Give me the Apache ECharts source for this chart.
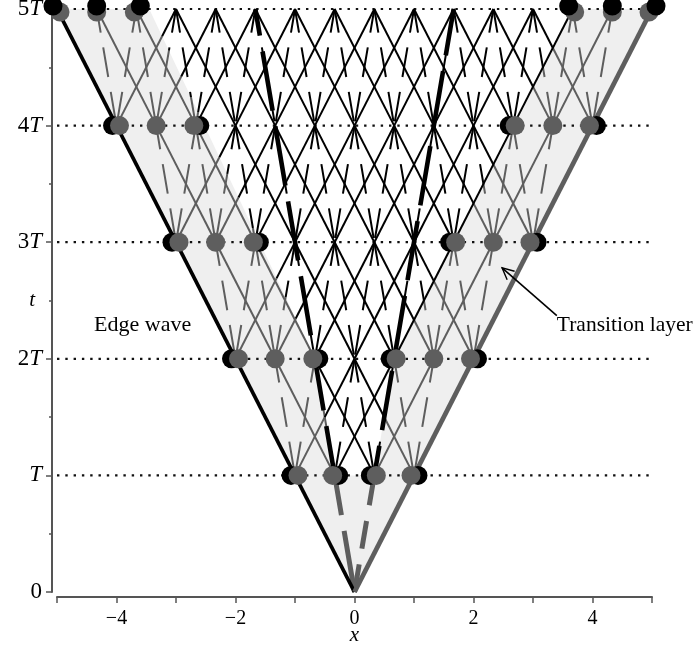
<!DOCTYPE html>
<html><head><meta charset="utf-8">
<script src="https://cdn.jsdelivr.net/npm/echarts@6/dist/echarts.min.js"></script>
<style>html,body{margin:0;padding:0;background:#fff}#c{width:696px;height:655px}</style>
</head><body><div id="c"></div>
<script>
// ---------------- data ----------------
const rowTimes = [1, 2, 3, 4, 5];                 // t = T, 2T, ... 5T
const row1 = [-1, -0.3333, 0.3333, 1];
const row2 = [-2, -1.3333, -0.6667, 0, 0.6667, 1.3333, 2];
const row3 = [-3, -2.3333, -1.6667, -1, -0.3333, 0.3333, 1, 1.6667, 2.3333, 3];
const row4 = [-4, -3.3333, -2.6667, -2, -1.3333, -0.6667, 0, 0.6667, 1.3333, 2, 2.6667, 3.3333, 4];
const row5 = [-5, -4.3333, -3.6667, -3, -2.3333, -1.6667, -1, -0.3333, 0.3333, 1, 1.6667, 2.3333, 3, 3.6667, 4.3333, 5];
const latticeRows = [row1, row2, row3, row4, row5];
const solidStep = 1, dashedStep = 0.3333;          // characteristic steps per T

const coneEdgeLeft  = [[0, 0], [-5, 5]];
const coneEdgeRight = [[0, 0], [5, 5]];
const slowLeftLow   = [[0, 0], [-0.3333, 1]];
const slowLeftHigh  = [[-0.3333, 1], [-1.6667, 5]];
const slowRightLow  = [[0, 0], [0.3333, 1]];
const slowRightHigh = [[0.3333, 1], [1.6667, 5]];

// inner boundary of the shaded transition layer
const shadeInnerLeft  = [[-0.3333, 1], [-0.6667, 2], [-3.45, 5]];
const shadeInnerRight = [[0.3333, 1], [0.6667, 2], [3.6667, 5]];

// transition-layer dots
const edgeDotsL  = [[-1, 1], [-2, 2], [-3, 3], [-4, 4], [-5, 5]];
const midDotsL   = [[-1.3333, 2], [-2.3333, 3], [-3.3333, 4], [-4.3333, 5]];
const innerDotsL = [[-0.3333, 1], [-0.6667, 2], [-1.6667, 3], [-2.6667, 4], [-3.6667, 5]];
const edgeDotsR  = [[1, 1], [2, 2], [3, 3], [4, 4], [5, 5]];
const midDotsR   = [[1.3333, 2], [2.3333, 3], [3.3333, 4], [4.3333, 5]];
const innerDotsR = [[0.3333, 1], [0.6667, 2], [1.6667, 3], [2.6667, 4], [3.6667, 5]];

const yTickLabels = ['0', 'T', '2T', '3T', '4T', '5T'];
const xTickValues = [-4, -2, 0, 2, 4];
const xTickLabels = ['\u22124', '\u22122', '0', '2', '4'];

const labelEdge = {text: 'Edge wave', at: [-3.56, 2.29]};
const labelLayer = {text: 'Transition layer', at: [3.40, 2.29]};
const arrowTail = [3.40, 2.37];
const arrowTip  = [2.48, 2.78];

// ---------------- styles ----------------
const GRAY = '#5e5e5e', BLACK = '#000', SHADE = '#efefef';
const SERIF = '"Liberation Serif", "DejaVu Serif", serif';
const DOT = 19;
const dotOffsetGray  = {edgeL: [3, 0], midL: [0, 0], innerL: [-2, 0], edgeR: [-3, 0], midR: [0, 0], innerR: [2, 0]};
const dotOffsetBlack = {edgeL: [-4, 0], midL: [0, 0], innerL: [4, 0], edgeR: [4, 0], midR: [0, 0], innerR: [-4, 0]};

// ---------------- helpers ----------------
function boundAt(bd, t) {
  for (let i = 0; i < bd.length - 1; i++) {
    const [xa, ta] = bd[i], [xb, tb] = bd[i + 1];
    if (t >= ta - 1e-9 && t <= tb + 1e-9) return xa + (xb - xa) * (t - ta) / (tb - ta);
  }
  return null;
}
const EPS_L = 1e-6, EPS_R = 0.01;
function isBlack(x, t) {
  if (t < 1 - 1e-9) return false;
  const L = boundAt(shadeInnerLeft, t), R = boundAt(shadeInnerRight, t);
  return x > L + EPS_L && x < R + EPS_R;
}
const graySegs = [], blackSegs = [];
function addSegment(xa, ta, xb, tb, dashed) {
  const ss = [0, 1];
  [[shadeInnerLeft, EPS_L], [shadeInnerRight, EPS_R]].forEach(([bd, eps]) => {
    const La = boundAt(bd, ta), Lb = boundAt(bd, tb);
    if (La === null || Lb === null) return;
    const f0 = xa - (La + eps), f1 = xb - (Lb + eps);
    if ((f0 < 0 && f1 > 0) || (f0 > 0 && f1 < 0)) ss.push(f0 / (f0 - f1));
  });
  ss.sort((a, b) => a - b);
  const px = s => xa + (xb - xa) * s, pt = s => ta + (tb - ta) * s;
  const pieces = [];
  for (let i = 0; i < ss.length - 1; i++) {
    const s0 = ss[i], s1 = ss[i + 1];
    if (s1 - s0 < 1e-6) continue;
    const c = isBlack(px((s0 + s1) / 2), pt((s0 + s1) / 2)) ? 1 : 0;
    const last = pieces[pieces.length - 1];
    if (last && last.c === c) last.s1 = s1; else pieces.push({s0, s1, c});
  }
  pieces.forEach(p => {
    const item = [px(p.s1), pt(p.s1), px(p.s0), pt(p.s0), p.c, dashed, xb, tb];
    (p.c ? blackSegs : graySegs).push(item);
  });
}
for (let r = 0; r < latticeRows.length - 1; r++) {
  const lo = latticeRows[r], hi = latticeRows[r + 1];
  lo.forEach(xa => hi.forEach(xb => {
    const d = Math.abs(xb - xa);
    if (Math.abs(d - solidStep) < 0.02) addSegment(xa, rowTimes[r], xb, rowTimes[r + 1], 0);
    else if (Math.abs(d - dashedStep) < 0.02) addSegment(xa, rowTimes[r], xb, rowTimes[r + 1], 1);
  }));
}

function segRender(params, api) {
  const p1 = api.coord([api.value(0), api.value(1)]);
  const p2 = api.coord([api.value(2), api.value(3)]);
  const pb = api.coord([api.value(6), api.value(7)]);
  const dashed = api.value(5) === 1;
  const style = {stroke: api.value(4) === 1 ? BLACK : GRAY, lineWidth: 2, fill: null};
  if (dashed) { style.lineDash = [30, 15]; style.lineDashOffset = 6 + Math.hypot(p1[0] - pb[0], p1[1] - pb[1]); }
  return {type: 'line', shape: {x1: p1[0], y1: p1[1], x2: p2[0], y2: p2[1]}, style};
}

function dotData(list, role, offsets, dyRow5, filter) {
  return list.filter(filter).map(p => ({
    value: p,
    symbolOffset: [offsets[role][0], offsets[role][1] + (p[1] === 5 ? dyRow5 : 0)]
  }));
}
const roles = [['edgeL', edgeDotsL], ['midL', midDotsL], ['innerL', innerDotsL], ['edgeR', edgeDotsR], ['midR', midDotsR], ['innerR', innerDotsR]];
const low = p => p[1] < 5, top5 = p => p[1] === 5;
let grayLow = [], blackLow = [], grayTop = [], blackTop = [];
roles.forEach(([role, list]) => {
  grayLow = grayLow.concat(dotData(list, role, dotOffsetGray, 0, low));
  if (role.indexOf('mid') !== 0) blackLow = blackLow.concat(dotData(list, role, dotOffsetBlack, 0, low));
  grayTop = grayTop.concat(dotData(list, role, dotOffsetGray, 3, top5));
  blackTop = blackTop.concat(dotData(list, role, dotOffsetBlack, -3, top5));
});

const shadePolygon = [coneEdgeLeft[0], coneEdgeLeft[1]]
  .concat(shadeInnerLeft.slice().reverse())
  .concat(shadeInnerRight)
  .concat([coneEdgeRight[1]]);

function lineSeries(data, color, width, dash, z, offset) {
  return {
    type: 'line', data, symbol: 'none', silent: true, z, clip: false,
    lineStyle: {color, width, type: dash || 'solid', dashOffset: offset || 0, cap: 'butt'}
  };
}

const chart = echarts.init(document.getElementById('c'), null, {renderer: 'canvas'});
const option = {
  animation: false,
  backgroundColor: '#fff',
  grid: {left: 57, right: 44, top: 9, bottom: 63, containLabel: false, outerBoundsMode: 'none'},
  xAxis: {
    type: 'value', min: -5, max: 5, interval: 1, offset: 5,
    name: 'x', nameLocation: 'middle', nameGap: 28, nameMoveOverlap: false,
    nameTextStyle: {fontFamily: SERIF, fontStyle: 'italic', fontSize: 21, color: '#000'},
    axisLine: {show: true, onZero: false, lineStyle: {color: '#555', width: 2}},
    axisTick: {show: true, length: 6, lineStyle: {color: '#555', width: 1.5}},
    splitLine: {show: false},
    axisLabel: {
      margin: 12, fontFamily: SERIF, fontSize: 20, color: '#000',
      formatter: v => { const i = xTickValues.indexOf(v); return i >= 0 ? xTickLabels[i] : ''; }
    }
  },
  yAxis: {
    type: 'value', min: 0, max: 5, interval: 1, offset: 5,
    name: 't', nameLocation: 'middle', nameGap: 17, nameRotate: 0, nameMoveOverlap: false,
    nameTextStyle: {fontFamily: SERIF, fontStyle: 'italic', fontSize: 21, color: '#000', align: 'right'},
    axisLine: {show: true, onZero: false, lineStyle: {color: '#555', width: 2}},
    axisTick: {show: true, length: 6, lineStyle: {color: '#555', width: 1.5}},
    minorTick: {show: true, splitNumber: 2, length: 3, lineStyle: {color: '#555', width: 1.5}},
    splitLine: {show: false},
    axisLabel: {
      margin: 10,
      formatter: v => {
        const s = yTickLabels[Math.round(v)] || '';
        const num = s.replace('T', '');
        return (num ? '{n|' + num + '}' : '') + (s.indexOf('T') >= 0 ? '{i|T}' : '');
      },
      rich: {
        n: {fontFamily: SERIF, fontSize: 23, color: '#000'},
        i: {fontFamily: SERIF, fontSize: 23, fontStyle: 'italic', color: '#000'}
      }
    }
  },
  series: [
    { // shaded transition layer
      type: 'custom', silent: true, z: 1, data: [[0, 0]],
      renderItem: (params, api) => ({
        type: 'polygon',
        shape: {points: shadePolygon.map(p => api.coord(p))},
        style: {fill: SHADE, stroke: null}
      })
    },
    { // dotted horizontal lines at nT
      type: 'custom', silent: true, z: 2, data: rowTimes.map(t => [0, t]),
      renderItem: (params, api) => {
        const t = api.value(1);
        const a = api.coord([-5, t]), b = api.coord([5, t]);
        return {type: 'line', shape: {x1: a[0], y1: a[1], x2: b[0], y2: b[1]},
          style: {stroke: '#111', lineWidth: 2.2, lineDash: [2.4, 5.9], lineCap: 'butt'}};
      }
    },
    {type: 'custom', silent: true, z: 3, data: graySegs, encode: {x: [0, 2], y: [1, 3]}, renderItem: segRender},
    {type: 'custom', silent: true, z: 4, data: blackSegs, encode: {x: [0, 2], y: [1, 3]}, renderItem: segRender},
    lineSeries(slowLeftLow, GRAY, 5, [62, 16], 5, 0),
    lineSeries(slowRightLow, GRAY, 5, [28, 16], 5, 0),
    lineSeries(slowLeftHigh, BLACK, 4.6, [60, 16], 5, 10),
    lineSeries(slowRightHigh, BLACK, 4.6, [60, 16], 5, 30),
    lineSeries(coneEdgeLeft, BLACK, 3.8, null, 6),
    lineSeries(coneEdgeRight, GRAY, 4.8, null, 6),
    {type: 'scatter', silent: true, z: 7, symbol: 'circle', symbolSize: DOT, data: blackLow, itemStyle: {color: BLACK, opacity: 1}},
    {type: 'scatter', silent: true, z: 8, symbol: 'circle', symbolSize: DOT, data: grayLow, itemStyle: {color: GRAY, opacity: 1}},
    {type: 'scatter', silent: true, z: 9, symbol: 'circle', symbolSize: DOT, data: grayTop, itemStyle: {color: GRAY, opacity: 1}},
    {type: 'scatter', silent: true, z: 10, symbol: 'circle', symbolSize: DOT, data: blackTop, itemStyle: {color: BLACK, opacity: 1}},
    { // annotations
      type: 'custom', silent: true, z: 11, data: [[0, 0]],
      renderItem: (params, api) => {
        const tail = api.coord(arrowTail), tip = api.coord(arrowTip);
        const ang = Math.atan2(tail[1] - tip[1], tail[0] - tip[0]);
        const L = 13, spread = 0.45;
        const a1 = [tip[0] + L * Math.cos(ang + spread), tip[1] + L * Math.sin(ang + spread)];
        const a2 = [tip[0] + L * Math.cos(ang - spread), tip[1] + L * Math.sin(ang - spread)];
        const pe = api.coord(labelEdge.at), pl = api.coord(labelLayer.at);
        return {
          type: 'group', children: [
            {type: 'line', shape: {x1: tail[0], y1: tail[1], x2: tip[0], y2: tip[1]}, style: {stroke: '#000', lineWidth: 1.6}},
            {type: 'polyline', shape: {points: [a1, tip, a2]}, style: {stroke: '#000', lineWidth: 1.4, fill: null}},
            {type: 'text', x: pe[0], y: pe[1], style: {text: labelEdge.text, fill: '#000', fontSize: 22, fontFamily: SERIF, align: 'center', verticalAlign: 'middle'}},
            {type: 'text', x: pl[0], y: pl[1], style: {text: labelLayer.text, fill: '#000', fontSize: 21.5, fontFamily: SERIF, align: 'left', verticalAlign: 'middle'}}
          ]
        };
      }
    }
  ]
};
chart.setOption(option);
</script>
</body></html>
